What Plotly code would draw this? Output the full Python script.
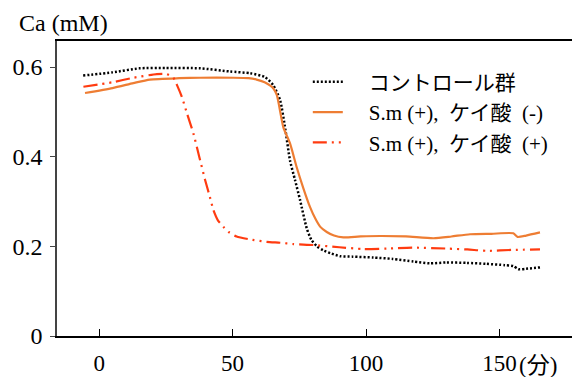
import plotly.graph_objects as go

# Data (time in minutes, Ca in mM)
ctrl_t = [-6, 5, 15, 25, 38, 49, 56.6, 62, 65.2, 67.8, 69.8, 71.5, 73.4, 75.3, 77.8, 79.5, 81.6, 84, 87, 90.3, 95, 102.8, 110, 117.8, 124, 130, 137.8, 145, 152, 155.2, 157.1, 160, 165.2]
ctrl_c = [0.581, 0.588, 0.597, 0.598, 0.597, 0.590, 0.586, 0.578, 0.560, 0.526, 0.46, 0.392, 0.348, 0.303, 0.240, 0.215, 0.200, 0.191, 0.184, 0.178, 0.177, 0.175, 0.172, 0.166, 0.162, 0.164, 0.163, 0.161, 0.158, 0.156, 0.149, 0.150, 0.153]

sm_t = [-5.3, 5, 12.8, 19, 30, 37.8, 50.3, 56, 59, 62, 64, 65.3, 66.6, 69, 71.5, 74, 76.5, 79, 81, 82.8, 85.3, 88, 91.5, 98, 105.3, 115, 125.3, 132, 139, 147, 155.2, 156.8, 160, 165.2]
sm_c = [0.542, 0.553, 0.564, 0.572, 0.575, 0.576, 0.576, 0.575, 0.572, 0.566, 0.559, 0.552, 0.537, 0.466, 0.430, 0.377, 0.330, 0.288, 0.262, 0.244, 0.232, 0.224, 0.220, 0.222, 0.223, 0.222, 0.218, 0.222, 0.227, 0.228, 0.229, 0.221, 0.224, 0.231]

si_t = [-5.9, 5, 12.8, 21.6, 25.3, 27.8, 29.3, 31, 33, 35.3, 37.5, 39.7, 41.5, 42.8, 44.5, 46.5, 48.5, 51.5, 56, 62.8, 67.8, 72.8, 80.3, 90, 99, 108, 117.8, 130.3, 138, 145.3, 155, 165.2]
si_c = [0.556, 0.566, 0.576, 0.584, 0.584, 0.576, 0.558, 0.533, 0.495, 0.452, 0.400, 0.348, 0.310, 0.281, 0.258, 0.244, 0.232, 0.222, 0.216, 0.210, 0.208, 0.205, 0.203, 0.198, 0.194, 0.195, 0.197, 0.195, 0.193, 0.190, 0.192, 0.193]

x_ticks = [0, 50, 100, 150]
x_ticktext = ["0", "50", "100", "150"]
y_ticks = [0, 0.2, 0.4, 0.6]
y_ticktext = ["0", "0.2", "0.4", "0.6"]

NB = "\u00a0" * 4
names = [
    NB + "コントロール群",
    NB + "S.m (+),  ケイ酸  (-)",
    NB + "S.m (+),  ケイ酸  (+)",
]

FONT = "Liberation Serif, Times New Roman, Noto Sans CJK JP, serif"

fig = go.Figure()
fig.add_trace(go.Scatter(x=ctrl_t, y=ctrl_c, mode="lines", name=names[0], legendgroup="a",
                         line=dict(color="#000000", width=2.5, dash="2px,2px", shape="spline", smoothing=0.6)))
fig.add_trace(go.Scatter(x=sm_t, y=sm_c, mode="lines", name=names[1], legendgroup="b",
                         line=dict(color="#EE7D33", width=2.2, shape="spline", smoothing=0.6)))
fig.add_trace(go.Scatter(x=si_t, y=si_c, mode="lines", name=names[2], legendgroup="c",
                         line=dict(color="#FF3B10", width=2.2, dash="14px,5px,2px,5px,2px,5px", shape="spline", smoothing=0.6)))

fig.update_layout(
    width=572, height=377,
    margin=dict(l=57, r=0, t=41, b=41),
    paper_bgcolor="white", plot_bgcolor="white",
    font=dict(family=FONT, size=24, color="#000000"),
    showlegend=True,
    legend=dict(x=0.487, y=0.93, xanchor="left", yanchor="top",
                font=dict(family=FONT, size=21, color="#000000"),
                bgcolor="rgba(0,0,0,0)", tracegroupgap=14, traceorder="normal"),
    xaxis=dict(range=[-15.8, 177.2], tickmode="array", tickvals=x_ticks, ticktext=x_ticktext,
               showline=True, linecolor="#000000", linewidth=1.5, mirror=True,
               ticks="inside", ticklen=7, tickcolor="#000000", tickwidth=1.2,
               tickfont=dict(family=FONT, size=23),
               showgrid=False, zeroline=False, ticklabelstandoff=6, automargin=False),
    yaxis=dict(range=[0, 0.658], tickmode="array", tickvals=y_ticks, ticktext=y_ticktext,
               showline=True, linecolor="#444444", linewidth=1.5, mirror=False,
               ticks="outside", ticklen=5, tickcolor="#444444", tickwidth=1.2,
               showgrid=False, zeroline=False, automargin=False, ticklabelstandoff=3),
    annotations=[
        dict(text="Ca (mM)", xref="paper", yref="paper", x=-0.078, y=1.0, yshift=18,
             xanchor="left", yanchor="middle", showarrow=False, font=dict(family=FONT, size=24)),
        dict(text="(分)", xref="x", yref="paper", x=150, y=0, xshift=18, yshift=-29,
             xanchor="left", yanchor="middle", showarrow=False, font=dict(family=FONT, size=23)),
    ],
)

fig.write_html("out.html", post_script="document.body.style.margin='0';",
               config={"displayModeBar": False})
